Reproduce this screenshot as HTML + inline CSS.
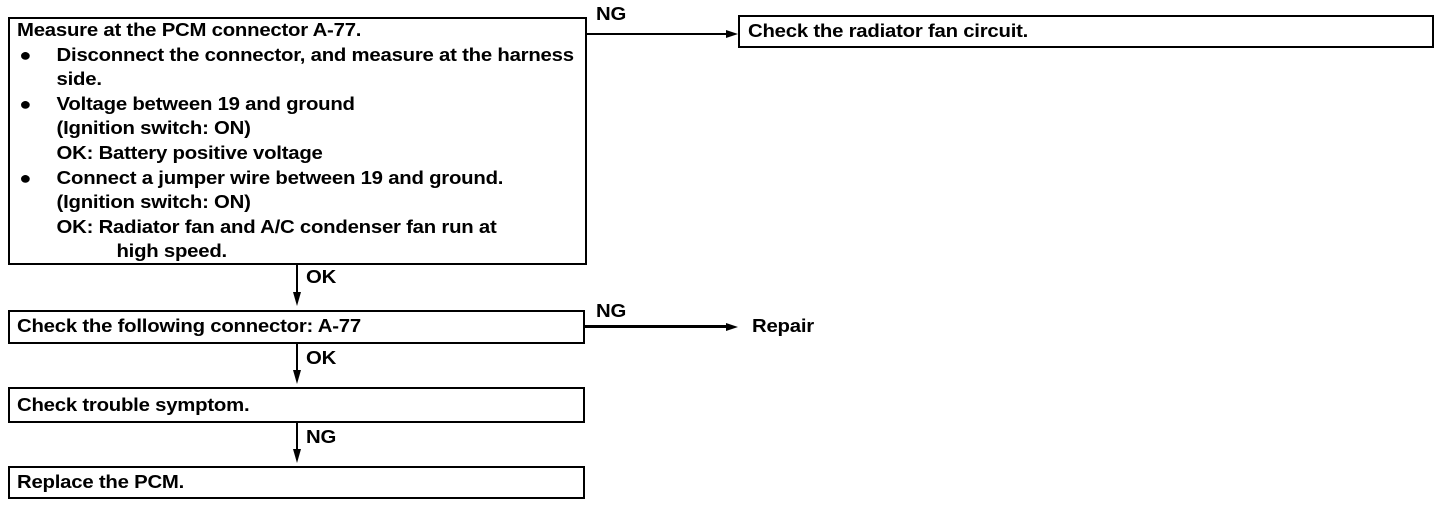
<!DOCTYPE html>
<html><head><style>
body{margin:0;width:1440px;height:508px;background:#fff;position:relative;font-family:"Liberation Sans",Arial,sans-serif;color:#000;overflow:hidden}
.b{position:absolute;border:2px solid #000;box-sizing:border-box}
.t{position:absolute;font-size:18px;line-height:24.6px;white-space:nowrap;transform:scaleX(1.13);transform-origin:left top;font-weight:bold;letter-spacing:-0.2px}
.l{position:absolute;background:#000}
</style></head><body>
<div class="b" style="left:8px;top:17px;width:579px;height:248px"></div>
<div class="t" style="left:17px;top:18px">Measure at the PCM connector A-77.<br>
<span style="position:relative;left:2px">●</span><span style="position:absolute;left:35px">Disconnect the connector, and measure at the harness</span><br>
<span style="position:absolute;left:35px">side.</span><br>
<span style="position:relative;left:2px">●</span><span style="position:absolute;left:35px">Voltage between 19 and ground</span><br>
<span style="position:absolute;left:35px">(Ignition switch: ON)</span><br>
<span style="position:absolute;left:35px">OK: Battery positive voltage</span><br>
<span style="position:relative;left:2px">●</span><span style="position:absolute;left:35px">Connect a jumper wire between 19 and ground.</span><br>
<span style="position:absolute;left:35px">(Ignition switch: ON)</span><br>
<span style="position:absolute;left:35px">OK: Radiator fan and A/C condenser fan run at</span><br>
<span style="position:absolute;left:88px">high speed.</span></div>

<div class="t" style="left:596px;top:2px">NG</div>
<div class="l" style="left:587px;top:33px;width:145px;height:2px"></div>
<svg style="position:absolute;left:0;top:0" width="1440" height="508">
<polygon points="738,34 726,30 726,38" fill="#000"/>
<polygon points="738,327 726,323 726,331" fill="#000"/>
<polygon points="297,306 293,292 301,292" fill="#000"/>
<polygon points="297,384 293,370 301,370" fill="#000"/>
<polygon points="297,463 293,449 301,449" fill="#000"/>
</svg>
<div class="b" style="left:738px;top:15px;width:696px;height:33px"></div>
<div class="t" style="left:748px;top:19px">Check the radiator fan circuit.</div>

<div class="l" style="left:296px;top:265px;width:2px;height:32px"></div>
<div class="t" style="left:306px;top:265px">OK</div>
<div class="b" style="left:8px;top:310px;width:577px;height:34px"></div>
<div class="t" style="left:17px;top:314px">Check the following connector: A-77</div>
<div class="t" style="left:596px;top:299px">NG</div>
<div class="l" style="left:585px;top:325px;width:145px;height:3px"></div>
<div class="t" style="left:752px;top:314px">Repair</div>

<div class="l" style="left:296px;top:344px;width:2px;height:32px"></div>
<div class="t" style="left:306px;top:346px">OK</div>
<div class="b" style="left:8px;top:387px;width:577px;height:36px"></div>
<div class="t" style="left:17px;top:393px">Check trouble symptom.</div>

<div class="l" style="left:296px;top:423px;width:2px;height:32px"></div>
<div class="t" style="left:306px;top:425px">NG</div>
<div class="b" style="left:8px;top:466px;width:577px;height:33px"></div>
<div class="t" style="left:17px;top:470px">Replace the PCM.</div>
</body></html>
